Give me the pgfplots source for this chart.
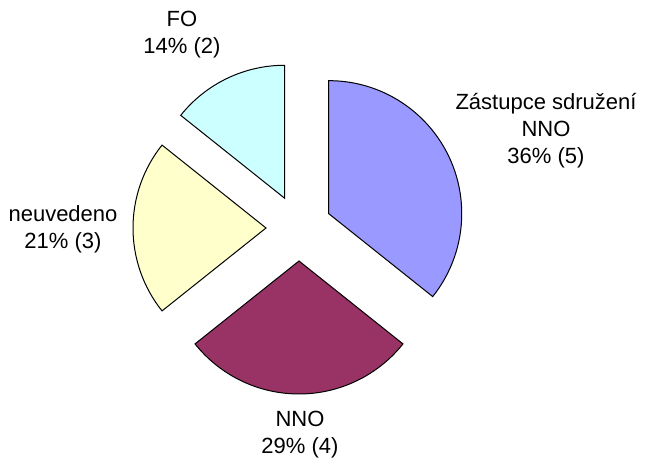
\documentclass[border=0pt]{standalone}
\usepackage{fontspec}
\setmainfont{Liberation Sans}
\usepackage{pgfplots}
\usepackage{pgfplotstable}
\pgfplotsset{compat=1.18}
\usetikzlibrary{calc}
\definecolor{cA}{HTML}{9999FF}
\definecolor{cB}{HTML}{993366}
\definecolor{cC}{HTML}{FFFFCC}
\definecolor{cD}{HTML}{CCFFFF}
\pgfplotstableread{
count
5
4
3
2
}\piedata
\begin{document}
\begin{tikzpicture}
\pgfplotstablegetelem{0}{count}\of\piedata \let\vA\pgfplotsretval
\pgfplotstablegetelem{1}{count}\of\piedata \let\vB\pgfplotsretval
\pgfplotstablegetelem{2}{count}\of\piedata \let\vC\pgfplotsretval
\pgfplotstablegetelem{3}{count}\of\piedata \let\vD\pgfplotsretval
\pgfmathsetmacro\tot{\vA+\vB+\vC+\vD}
\pgfmathsetmacro\sA{90}
\pgfmathsetmacro\eA{\sA-360*\vA/\tot}
\pgfmathsetmacro\mA{(\sA+\eA)/2}
\pgfmathsetmacro\eB{\eA-360*\vB/\tot}
\pgfmathsetmacro\mB{(\eA+\eB)/2}
\pgfmathsetmacro\eC{\eB-360*\vC/\tot}
\pgfmathsetmacro\mC{(\eB+\eC)/2}
\pgfmathsetmacro\eD{\eC-360*\vD/\tot}
\pgfmathsetmacro\mD{(\eC+\eD)/2}
\begin{axis}[x=0.5pt, y=0.5pt, xmin=0, xmax=648, ymin=0, ymax=455,
  enlargelimits=false, hide axis, clip=false]
\path (axis cs:0,0) rectangle (axis cs:648,455);
\filldraw[fill=cA, draw=black, line width=0.5pt] ($(axis cs:299,227)+(\mA:16.5pt)$) -- ++(\sA:66.5pt) arc[start angle=\sA, end angle=\eA, radius=66.5pt] -- cycle;
\filldraw[fill=cB, draw=black, line width=0.5pt] ($(axis cs:299,227)+(\mB:16.5pt)$) -- ++(\eA:66.5pt) arc[start angle=\eA, end angle=\eB, radius=66.5pt] -- cycle;
\filldraw[fill=cC, draw=black, line width=0.5pt] ($(axis cs:299,227)+(\mC:16.5pt)$) -- ++(\eB:66.5pt) arc[start angle=\eB, end angle=\eC, radius=66.5pt] -- cycle;
\filldraw[fill=cD, draw=black, line width=0.5pt] ($(axis cs:299,227)+(\mD:16.5pt)$) -- ++(\eC:66.5pt) arc[start angle=\eC, end angle=\eD, radius=66.5pt] -- cycle;
\tikzset{lbl/.style={align=center, inner sep=0pt, font=\fontsize{11}{13.5}\selectfont}}
\node[lbl] at (axis cs:546,324) {Zástupce sdružení\\NNO\\36\% (5)};
\node[lbl] at (axis cs:300,20) {NNO\\29\% (4)};
\node[lbl] at (axis cs:63,226) {neuvedeno\\21\% (3)};
\node[lbl] at (axis cs:182,420) {FO\\14\% (2)};
\end{axis}
\end{tikzpicture}
\end{document}
